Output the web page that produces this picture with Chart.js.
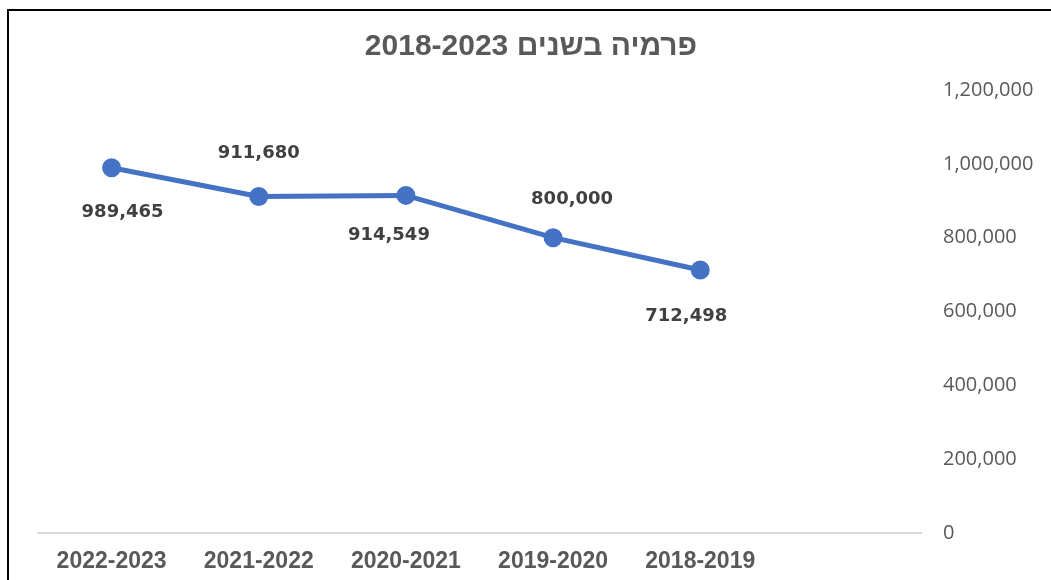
<!DOCTYPE html>
<html>
<head>
<meta charset="utf-8">
<script src="https://cdn.jsdelivr.net/npm/chart.js@4.4.0/dist/chart.umd.min.js"></script>
<style>
  body { margin: 0; background: #fff; overflow: hidden; }
  #frame { position: absolute; left: 7px; top: 9px; width: 1200px; height: 700px; border: 2px solid #000; }
  #chart { position: absolute; left: 0; top: 0; }
</style>
</head>
<body>
<div id="frame"></div>
<canvas id="chart" width="1051" height="580"></canvas>
<script>
// data (years run right to left, last slot empty)
var years = ['2022-2023', '2021-2022', '2020-2021', '2019-2020', '2018-2019', ''];
var premium = [989465, 911680, 914549, 800000, 712498, null];
var yTicks = [0, 200000, 400000, 600000, 800000, 1000000, 1200000];
var titleText = 'פרמיה בשנים 2018-2023';

// where each value label sits relative to its point (px)
var labelShift = [[11, 45], [0, -43], [-17, 40], [19, -38], [-14, 46]];

function fmt(v) {
    return v.toLocaleString('en-US');
}

var valueLabels = {
    id: 'valueLabels',
    afterDatasetsDraw: function (chart) {
        var ctx = chart.ctx;
        var meta = chart.getDatasetMeta(0);
        ctx.save();
        ctx.font = 'bold 18px "DejaVu Sans"';
        ctx.fillStyle = '#404040';
        ctx.textAlign = 'center';
        ctx.textBaseline = 'middle';
        meta.data.forEach(function (pt, i) {
            var v = chart.data.datasets[0].data[i];
            if (v == null) return;
            var s = labelShift[i] || [0, -20];
            ctx.fillText(fmt(v), pt.x + s[0], pt.y + s[1]);
        });
        ctx.restore();
    }
};

// title sits a little left of the canvas centre, so draw it by hand
var chartTitle = {
    id: 'chartTitle',
    afterDraw: function (chart) {
        var ctx = chart.ctx;
        ctx.save();
        ctx.font = 'bold 30px "Liberation Sans"';
        ctx.fillStyle = '#595959';
        ctx.textAlign = 'center';
        ctx.textBaseline = 'middle';
        ctx.fillText(titleText, 531, 47);
        ctx.restore();
    }
};

var ctx = document.getElementById('chart').getContext('2d');

new Chart(ctx, {
    type: 'line',
    data: {
        labels: years,
        datasets: [{
            data: premium,
            borderColor: '#4472C4',
            backgroundColor: '#4472C4',
            borderWidth: 5,
            pointRadius: 7,
            pointHoverRadius: 7,
            pointBackgroundColor: '#4472C4',
            pointBorderColor: '#4472C4',
            tension: 0,
            spanGaps: false
        }]
    },
    options: {
        responsive: false,
        animation: false,
        layout: {
            padding: { left: 38, right: 0, top: 90, bottom: 0 }
        },
        plugins: {
            legend: { display: false },
            tooltip: { enabled: false },
            title: { display: false }
        },
        scales: {
            x: {
                offset: true,
                grid: { display: false, drawTicks: false },
                border: { display: true, color: '#d9d9d9', width: 2 },
                ticks: {
                    color: '#595959',
                    maxRotation: 0,
                    autoSkip: false,
                    padding: 15,
                    font: { family: '"Liberation Sans"', size: 23, weight: 'bold' }
                },
                afterFit: function (axis) { axis.height = 47; }
            },
            y: {
                position: 'right',
                min: 0,
                max: 1200000,
                afterBuildTicks: function (axis) {
                    axis.ticks = yTicks.map(function (v) { return { value: v }; });
                },
                grid: { display: false, drawTicks: false },
                border: { display: false },
                ticks: {
                    color: '#595959',
                    padding: 22,
                    font: { family: '"Open Sans"', size: 20 },
                    callback: function (v) { return fmt(v); }
                },
                afterFit: function (axis) { axis.width = 130; }
            }
        }
    },
    plugins: [valueLabels, chartTitle]
});
</script>
</body>
</html>
